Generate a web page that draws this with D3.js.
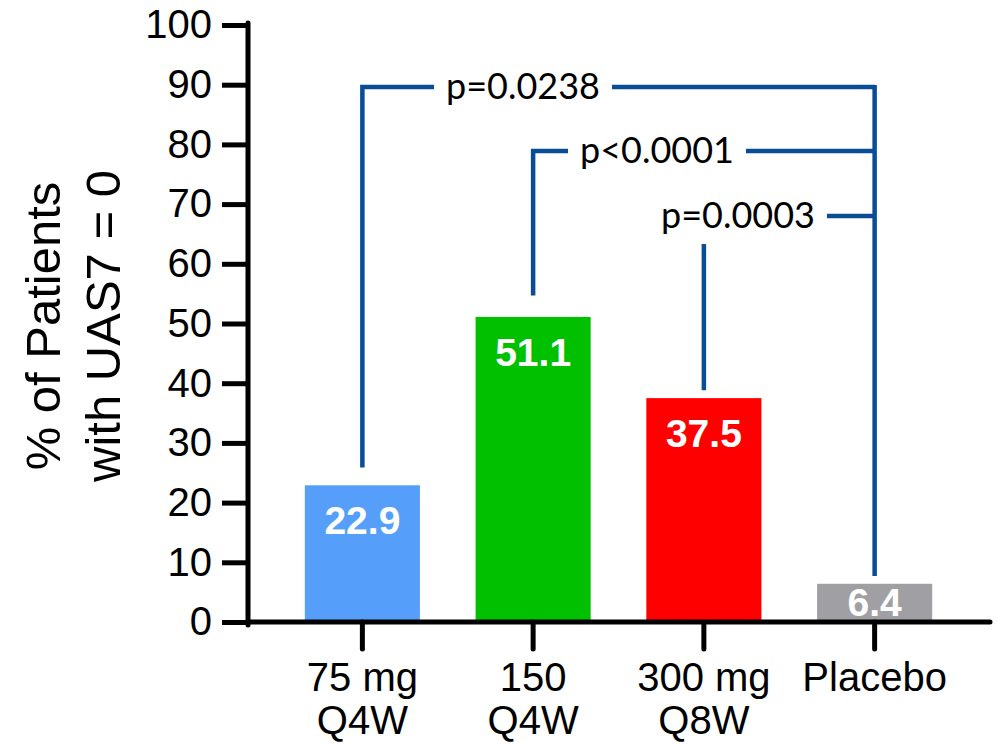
<!DOCTYPE html>
<html>
<head>
<meta charset="utf-8">
<script src="https://cdn.jsdelivr.net/npm/d3@7"></script>
<style>
  body { margin: 0; background: #fff; }
  text { font-family: "Liberation Sans", Arial, sans-serif; }
</style>
</head>
<body>
<div id="chart"></div>
<script>
    var width = 997,
        height = 744;

    // data
    var groups = ["75 mg Q4W", "150 Q4W", "300 mg Q8W", "Placebo"],
        groupLines = [["75 mg", "Q4W"], ["150", "Q4W"], ["300 mg", "Q8W"], ["Placebo"]],
        values = [22.9, 51.1, 37.5, 6.4],
        colors = ["#559ffa", "#00c000", "#ff0000", "#a0a0a4"],
        yTicks = [0, 10, 20, 30, 40, 50, 60, 70, 80, 90, 100];

    // comparisons vs placebo
    var pLabels = ["p=0.0238", "p<0.0001", "p=0.0003"],
        pFrom = ["75 mg Q4W", "150 Q4W", "300 mg Q8W"],
        pLevel = [89.6, 78.9, 68.0],     // height of the bracket bar
        pLegBottom = [25.9, 54.7, 38.8], // where the treatment leg stops
        placeboLegBottom = 7.7;

    var blue = "#0a4d97";

    var svg = d3.select("#chart").append("svg")
        .attr("width", width)
        .attr("height", height);

    var y = d3.scaleLinear().domain([0, 100]).range([622, 25]);
    var x = d3.scaleBand().domain(groups).range([277, 960])
        .paddingInner(0.326).paddingOuter(0.163);
    var cx = function (g) { return x(g) + x.bandwidth() / 2; };

    // bars
    svg.append("g").selectAll("rect")
        .data(groups)
        .enter().append("rect")
        .attr("x", function (d) { return x(d); })
        .attr("width", x.bandwidth())
        .attr("y", function (d, i) { return y(values[i]); })
        .attr("height", function (d, i) { return y(0) - y(values[i]); })
        .style("fill", function (d, i) { return colors[i]; });

    // value labels
    svg.append("g").selectAll("text")
        .data(groups)
        .enter().append("text")
        .attr("x", cx)
        .attr("y", function (d, i) { return Math.min(y(values[i]) + 49, y(0) - 6); })
        .attr("text-anchor", "middle")
        .style("font-size", "39px")
        .style("font-weight", "bold")
        .style("fill", "#fff")
        .text(function (d, i) { return values[i].toFixed(1); });

    // y axis
    var yAxis = d3.axisLeft(y).tickValues(yTicks).tickSize(26).tickPadding(10);
    var yg = svg.append("g").attr("transform", "translate(248,0)").call(yAxis);
    yg.select(".domain").remove();
    yg.selectAll(".tick line").attr("stroke", "#000").attr("stroke-width", 5);
    yg.selectAll(".tick text")
        .attr("font-family", null)
        .style("font-size", "40px")
        .style("fill", "#000");
    yg.append("line")
        .attr("x1", 0).attr("x2", 0)
        .attr("y1", y(100) - 2).attr("y2", y(0) + 3)
        .attr("stroke", "#000").attr("stroke-width", 5)
        .attr("stroke-linecap", "round");

    // x axis
    var xAxis = d3.axisBottom(x).tickSize(27).tickFormat("");
    var xg = svg.append("g").attr("transform", "translate(0," + y(0) + ")").call(xAxis);
    xg.select(".domain").remove();
    xg.selectAll(".tick line").attr("stroke", "#000").attr("stroke-width", 5)
        .attr("stroke-linecap", "round");
    xg.append("line")
        .attr("x1", 248).attr("x2", 990)
        .attr("stroke", "#000").attr("stroke-width", 5)
        .attr("stroke-linecap", "round");

    // x labels, two lines
    var xl = svg.append("g").selectAll("text")
        .data(groups)
        .enter().append("text")
        .attr("text-anchor", "middle")
        .style("font-size", "40px")
        .style("fill", "#000");
    xl.each(function (d, i) {
        var t = d3.select(this);
        groupLines[i].forEach(function (line, j) {
            t.append("tspan")
                .attr("x", cx(d))
                .attr("y", 691 + j * 43)
                .text(line);
        });
    });

    // y title
    svg.append("text")
        .attr("transform", "translate(60,326) rotate(-90)")
        .attr("text-anchor", "middle")
        .style("font-size", "49px")
        .style("fill", "#000")
        .selectAll("tspan")
        .data(["% of Patients", "with UAS7 = 0"])
        .enter().append("tspan")
        .attr("x", 0)
        .attr("dy", function (d, i) { return i ? 60 : 0; })
        .text(function (d) { return d; });

    // significance brackets
    var textCenter = [523, 657, 738],  // label centres in px
        gap = 12,
        px = cx("Placebo");
    var br = svg.append("g")
        .attr("fill", "none")
        .attr("stroke", blue)
        .attr("stroke-width", 4.5);

    // placebo leg shared by all brackets
    br.append("line")
        .attr("x1", px).attr("x2", px)
        .attr("y1", y(pLevel[0]) - 2).attr("y2", y(placeboLegBottom));

    pLabels.forEach(function (lab, i) {
        var ly = y(pLevel[i]),
            lx = cx(pFrom[i]);
        var t = svg.append("text")
            .attr("x", textCenter[i])
            .attr("y", ly + 12)
            .attr("text-anchor", "middle")
            .style("font-family", "Lato, 'Open Sans', sans-serif")
            .style("font-size", "36px")
            .style("fill", "#000")
            .text(lab);
        var w = t.node().getComputedTextLength();
        var t0 = textCenter[i] - w / 2,
            t1 = textCenter[i] + w / 2;

        // right part, up to the placebo leg
        br.append("line")
            .attr("x1", t1 + gap).attr("x2", px)
            .attr("y1", ly).attr("y2", ly);

        if (i < 2) {
            br.append("path")
                .attr("d", "M" + (t0 - gap) + "," + ly + "H" + lx + "V" + y(pLegBottom[i]));
        } else {
            // short leg under the label
            br.append("line")
                .attr("x1", lx).attr("x2", lx)
                .attr("y1", ly + 28).attr("y2", y(pLegBottom[i]));
        }
    });
</script>
</body>
</html>
